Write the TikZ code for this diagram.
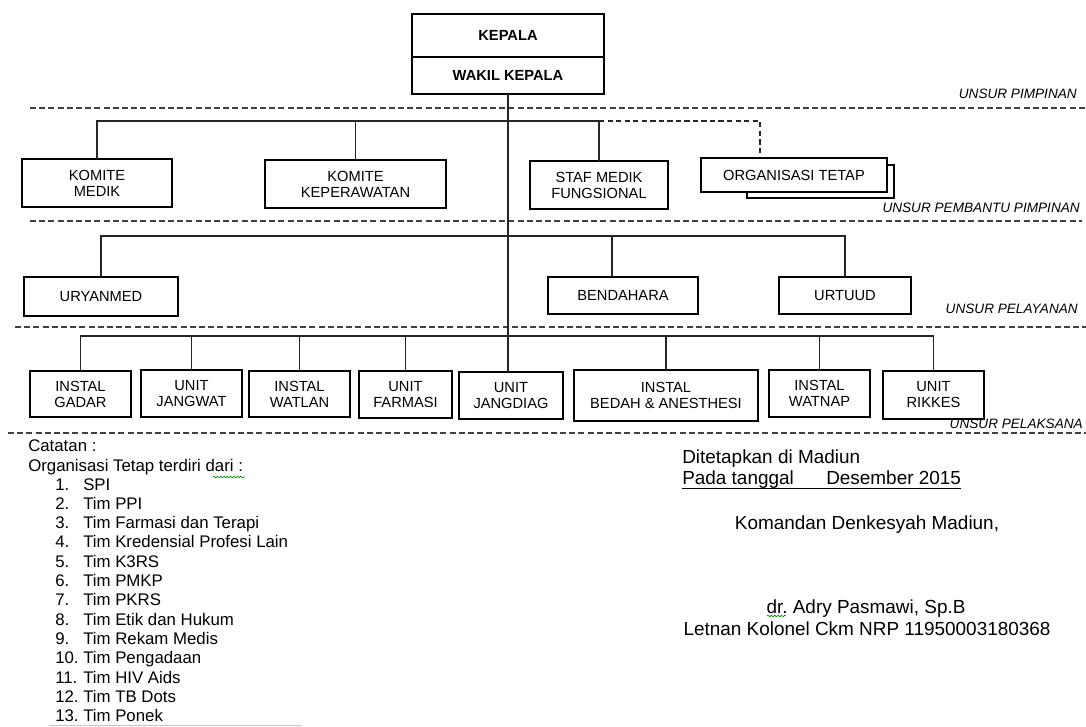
\documentclass[tikz,border=0pt]{standalone}
\usepackage{fontspec}
\setmainfont{Liberation Sans}
\usetikzlibrary{calc,decorations.pathmorphing}
\frenchspacing
\tikzset{
  box/.style={draw=black, line width=0.9pt, inner sep=0pt, outer sep=0pt, align=center, font=\fontsize{11}{12}\selectfont},
  headbox/.style={box, font=\fontsize{11}{13}\selectfont\bfseries},
  conn/.style={draw=black!85, line width=0.8pt},
  dconn/.style={conn, dash pattern=on 4pt off 2.4pt},
  sep/.style={draw=black!75, line width=0.8pt, dash pattern=on 4.5pt off 2.4pt},
  unsur/.style={anchor=base east, inner sep=0pt, font=\fontsize{10.2}{12}\selectfont\itshape},
  note/.style={anchor=base west, inner sep=0pt, font=\fontsize{12.6}{14}\selectfont},
  sign/.style={anchor=base, inner sep=0pt, font=\fontsize{14.2}{16}\selectfont},
  spell/.style={draw=green!55!black, line width=0.5pt, decorate, decoration={snake, amplitude=0.6pt, segment length=2.5pt}},
}
\newcommand{\orgbox}[7][box]{%
  \pgfmathsetmacro{\obW}{(#5-#3)*0.75}%
  \pgfmathsetmacro{\obH}{(#6-#4)*0.75}%
  \node[#1, minimum width=\obW pt, minimum height=\obH pt] (#2) at ({(#3+#5)/2},{(#4+#6)/2}) {#7};}
\begin{document}
\begin{tikzpicture}[x=0.75pt,y=-0.75pt]
\useasboundingbox[fill=white] (0,0) rectangle (1086,727);

% separators
\draw[sep] (30,108) -- (1086,108);
\draw[sep] (30,221) -- (1082,221);
\draw[sep] (15,327) -- (1086,327);
\draw[sep] (8,433) -- (1086,433);
\node[unsur] (u1) at (1077,99) {UNSUR PIMPINAN};
\node[unsur] (u2) at (1080,213) {UNSUR PEMBANTU PIMPINAN};
\node[unsur] (u3) at (1078,314) {UNSUR PELAYANAN};
\node[unsur] (u4) at (1083,429) {UNSUR PELAKSANA};

% head
\orgbox[headbox]{kepala}{412}{14}{604}{57}{KEPALA}
\orgbox[headbox]{wakil}{412}{57}{604}{94}{WAKIL KEPALA}
\draw[line width=1.8pt] (kepala.south west) -- (kepala.south east);

% row 2
\orgbox{medik}{22}{159}{172}{207}{KOMITE\\MEDIK}
\orgbox{keper}{265}{160}{446}{208}{KOMITE\\KEPERAWATAN}
\orgbox{staf}{530}{161}{668}{209}{STAF MEDIK\\FUNGSIONAL}
\orgbox{orgback}{747}{165}{894}{198}{}
\orgbox[box,fill=white]{org}{701}{158}{887}{192}{ORGANISASI TETAP}

% row 3
\orgbox{uryan}{24}{277}{178}{316}{URYANMED}
\orgbox{bend}{548}{277}{698}{314}{BENDAHARA}
\orgbox{urtu}{779}{277}{911}{314}{URTUUD}

% row 4
\orgbox{gadar}{30}{371}{131}{417}{INSTAL\\GADAR}
\orgbox{jangwat}{141}{370}{242}{417}{UNIT\\JANGWAT}
\orgbox{watlan}{249}{371}{350}{417}{INSTAL\\WATLAN}
\orgbox{farmasi}{359}{371}{452}{418}{UNIT\\FARMASI}
\orgbox{jangdiag}{459}{372}{563}{419}{UNIT\\JANGDIAG}
\orgbox{bedah}{574}{370}{758}{421}{INSTAL\\BEDAH \& ANESTHESI}
\orgbox{watnap}{769}{370}{870}{417}{INSTAL\\WATNAP}
\orgbox{rikkes}{883}{371}{984}{419}{UNIT\\RIKKES}

% connectors
\coordinate (b2) at (0,121);
\coordinate (b3) at (0,236);
\coordinate (b4) at (0,336);
\coordinate (od) at (760,121);
\draw[conn] (wakil.south) -- (wakil.south |- jangdiag.north);
\draw[conn] (medik.north) -- (medik.north |- b2) -- (staf.north |- b2) -- (staf.north);
\draw[conn] (keper.north) -- (keper.north |- b2);
\draw[dconn] (staf.north |- b2) -- (od) -- ($(od |- org.north)+(0,-2)$);
\coordinate (bendtop) at ($(bend.north)+(-11,0)$);
\draw[conn] (uryan.north) -- (uryan.north |- b3) -- (urtu.north |- b3) -- (urtu.north);
\draw[conn] (bendtop) -- (bendtop |- b3);
\draw[conn] (gadar.north) -- (gadar.north |- b4) -- (rikkes.north |- b4) -- (rikkes.north);
\foreach \n in {jangwat,watlan,farmasi,bedah,watnap}
  \draw[conn] (\n.north) -- (\n.north |- b4);

% notes
\node[note] (cat) at (28,451) {Catatan :};
\node[note] (org-note) at (28,471) {Organisasi Tetap terdiri dari :};
\draw[spell] (213,477) -- (245,477);
\foreach \t [count=\i] in {SPI,Tim PPI,Tim Farmasi dan Terapi,Tim Kredensial Profesi Lain,Tim K3RS,Tim PMKP,Tim PKRS,Tim Etik dan Hukum,Tim Rekam Medis,Tim Pengadaan,Tim HIV Aids,Tim TB Dots,Tim Ponek}{
  \node[note] (num\i) at (55,{490+(\i-1)*19.33}) {\i.};
  \node[note] (item\i) at (83,{490+(\i-1)*19.33}) {\t};
}
\draw[gray!45, line width=0.6pt] (49,725) -- (302,725);

% signature
\node[sign, anchor=base west] (dit) at (682,463) {Ditetapkan di Madiun};
\node[sign, anchor=base west] (pada) at (682,484) {Pada tanggal};
\node[sign, anchor=base west] (des) at (826,484) {Desember 2015};
\draw[line width=1pt] ([yshift=-3.5pt]pada.base west) -- ([yshift=-3.5pt]des.base east);
\node[sign] (kom) at (867,529) {Komandan Denkesyah Madiun,};
\node[sign] (dr) at (866,613) {dr. Adry Pasmawi, Sp.B};
\draw[spell] (767,616) -- (786,616);
\node[sign] (let) at (867,635) {Letnan Kolonel Ckm NRP 11950003180368};
\end{tikzpicture}
\end{document}
